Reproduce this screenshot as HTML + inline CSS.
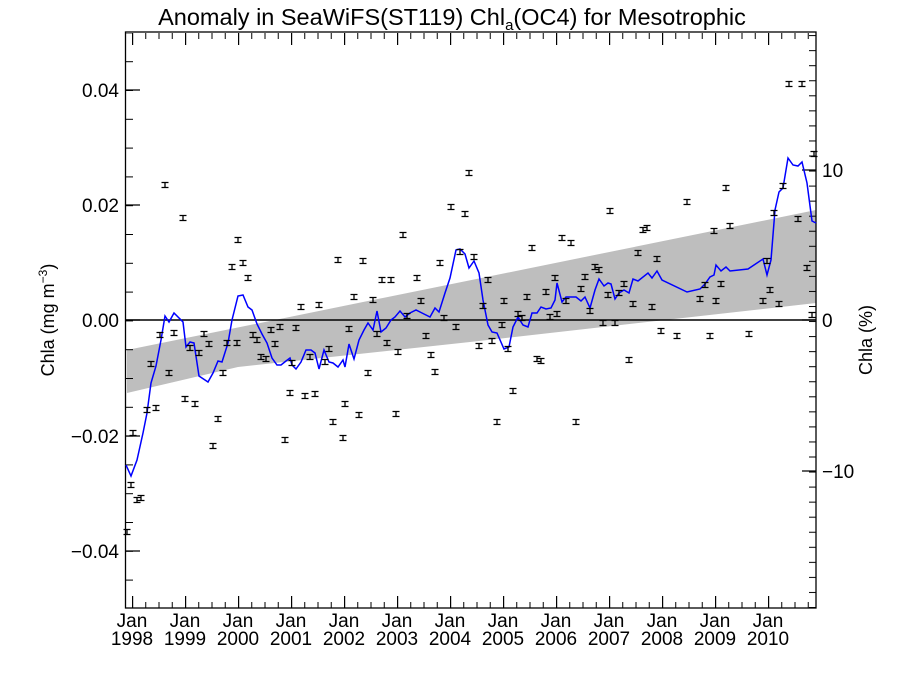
<!DOCTYPE html>
<html><head><meta charset="utf-8"><style>
html,body{margin:0;padding:0;background:#fff;}
svg{display:block;font-family:"Liberation Sans",sans-serif;}
</style></head><body>
<svg width="900" height="675" viewBox="0 0 900 675" xmlns="http://www.w3.org/2000/svg">
<defs>
<path id="eb" d="M-3.5,-2.5h7M-3.5,2.5h7M0,-2.5v5" stroke="#000" stroke-width="1.3" fill="none"/>
<pattern id="xminB" x="132" y="0" width="13.25" height="675" patternUnits="userSpaceOnUse"><rect x="0" y="0" width="1" height="675" fill="#000"/></pattern>
<pattern id="xmajB" x="132" y="0" width="53" height="675" patternUnits="userSpaceOnUse"><rect x="0" y="0" width="1.2" height="675" fill="#000"/></pattern>
<pattern id="yminL" x="0" y="32.4" width="900" height="28.8" patternUnits="userSpaceOnUse"><rect x="0" y="0" width="900" height="1" fill="#000"/></pattern>
<pattern id="yminR" x="0" y="5" width="900" height="15.05" patternUnits="userSpaceOnUse"><rect x="0" y="0" width="900" height="1" fill="#000"/></pattern>
</defs>
<text x="452" y="25" font-size="23.5" text-anchor="middle">Anomaly in SeaWiFS(ST119) Chl<tspan font-size="15" dy="5">a</tspan><tspan dy="-5">(OC4) for Mesotrophic</tspan></text>

<polygon points="127,350 816,210 816,303 470,342 238,367 127,393" fill="#bebebe"/>
<line x1="126" y1="320" x2="816" y2="320" stroke="#000" stroke-width="1.5"/>

<rect x="127" y="602" width="689" height="6" fill="url(#xminB)"/>
<rect x="127" y="596" width="689" height="12" fill="url(#xmajB)"/>
<rect x="127" y="33" width="689" height="6" fill="url(#xminB)"/>
<rect x="127" y="33" width="689" height="12" fill="url(#xmajB)"/>
<rect x="126" y="33" width="7" height="575" fill="url(#yminL)"/>
<path d="M126,90h14M126,205h14M126,320h14M126,436h14M126,551h14M816,170h-14M816,320h-14M816,471h-14" stroke="#000" stroke-width="1.2"/>
<rect x="809" y="33" width="7" height="575" fill="url(#yminR)"/>
<rect x="125.5" y="32" width="690.5" height="576" fill="none" stroke="#000" stroke-width="1.3"/>

<polyline fill="none" stroke="#0000ff" stroke-width="1.5" points="126,465 131,476 137,460 143,433 147,413 151,383 156,366 161,340 165,316 169,322 174,313 183,322 186,347 190,342 194,343 199,376 208,382 213,373 218,361 222,362 228,343 232,320 238,296 243,295 248,307 252,310 257,324 262,334 267,343 272,358 277,365 281,365 286,361 290,358 292,365 296,369 301,362 306,350 311,350 315,353 319,369 324,350 329,362 333,363 338,367 343,360 345,367 349,344 354,359 359,340 364,330 368,323 373,330 377,311 381,332 386,328 391,320 395,317 400,311 405,317 410,313 416,310 422,313 430,317 435,308 439,312 445,293 450,278 456,250 460,249 465,254 469,268 474,261 479,273 483,300 488,325 492,332 497,333 504,349 509,347 513,327 518,317 523,325 528,327 532,313 537,313 541,307 546,309 551,308 555,300 557,283 562,302 566,297 576,297 581,301 585,297 590,308 595,290 599,279 604,286 608,283 611,284 615,299 619,293 624,290 629,293 633,279 638,281 648,273 652,278 657,271 662,280 687,292 700,289 705,284 710,277 714,275 716,265 721,271 726,267 730,271 748,269 763,259 767,275 771,260 775,210 779,192 783,188 788,158 793,165 798,166 802,162 807,183 812,221 816,223"/>

<g>
<use href="#eb" x="127" y="532"/><use href="#eb" x="131" y="485"/><use href="#eb" x="137" y="500"/><use href="#eb" x="141" y="498"/><use href="#eb" x="133" y="433"/>
<use href="#eb" x="147" y="410"/><use href="#eb" x="156" y="408"/><use href="#eb" x="151" y="364"/><use href="#eb" x="160" y="335"/><use href="#eb" x="165" y="185"/>
<use href="#eb" x="169" y="373"/><use href="#eb" x="174" y="333"/><use href="#eb" x="183" y="218"/><use href="#eb" x="185" y="399"/><use href="#eb" x="190" y="348"/>
<use href="#eb" x="195" y="404"/><use href="#eb" x="199" y="353"/><use href="#eb" x="204" y="334"/><use href="#eb" x="209" y="344"/><use href="#eb" x="213" y="446"/>
<use href="#eb" x="218" y="419"/><use href="#eb" x="223" y="373"/><use href="#eb" x="227" y="343"/><use href="#eb" x="232" y="267"/><use href="#eb" x="237" y="343"/>
<use href="#eb" x="238" y="240"/><use href="#eb" x="243" y="263"/><use href="#eb" x="248" y="278"/><use href="#eb" x="253" y="335"/><use href="#eb" x="257" y="340"/>
<use href="#eb" x="261" y="357"/><use href="#eb" x="266" y="359"/><use href="#eb" x="271" y="330"/><use href="#eb" x="275" y="344"/><use href="#eb" x="280" y="327"/>
<use href="#eb" x="285" y="440"/><use href="#eb" x="290" y="393"/><use href="#eb" x="292" y="363"/><use href="#eb" x="296" y="328"/><use href="#eb" x="301" y="307"/>
<use href="#eb" x="305" y="396"/><use href="#eb" x="310" y="357"/><use href="#eb" x="315" y="394"/><use href="#eb" x="319" y="305"/><use href="#eb" x="325" y="362"/>
<use href="#eb" x="329" y="349"/><use href="#eb" x="333" y="422"/><use href="#eb" x="338" y="260"/><use href="#eb" x="343" y="438"/><use href="#eb" x="345" y="404"/>
<use href="#eb" x="349" y="329"/><use href="#eb" x="354" y="297"/><use href="#eb" x="359" y="415"/><use href="#eb" x="363" y="261"/><use href="#eb" x="368" y="373"/>
<use href="#eb" x="373" y="300"/><use href="#eb" x="377" y="334"/><use href="#eb" x="382" y="280"/><use href="#eb" x="387" y="343"/><use href="#eb" x="391" y="280"/>
<use href="#eb" x="396" y="414"/><use href="#eb" x="398" y="352"/><use href="#eb" x="403" y="235"/><use href="#eb" x="407" y="316"/><use href="#eb" x="417" y="278"/>
<use href="#eb" x="421" y="301"/><use href="#eb" x="426" y="336"/><use href="#eb" x="431" y="355"/><use href="#eb" x="435" y="372"/><use href="#eb" x="440" y="263"/>
<use href="#eb" x="444" y="318"/><use href="#eb" x="451" y="207"/><use href="#eb" x="456" y="327"/><use href="#eb" x="460" y="252"/><use href="#eb" x="465" y="214"/>
<use href="#eb" x="469" y="173"/><use href="#eb" x="474" y="257"/><use href="#eb" x="479" y="346"/><use href="#eb" x="483" y="306"/><use href="#eb" x="488" y="280"/>
<use href="#eb" x="492" y="341"/><use href="#eb" x="497" y="422"/><use href="#eb" x="502" y="325"/><use href="#eb" x="504" y="301"/><use href="#eb" x="508" y="349"/>
<use href="#eb" x="513" y="391"/><use href="#eb" x="518" y="314"/><use href="#eb" x="522" y="318"/><use href="#eb" x="527" y="297"/><use href="#eb" x="532" y="248"/>
<use href="#eb" x="537" y="359"/><use href="#eb" x="541" y="361"/><use href="#eb" x="546" y="292"/><use href="#eb" x="550" y="317"/><use href="#eb" x="555" y="278"/>
<use href="#eb" x="557" y="314"/><use href="#eb" x="562" y="238"/><use href="#eb" x="566" y="301"/><use href="#eb" x="571" y="243"/><use href="#eb" x="576" y="422"/>
<use href="#eb" x="581" y="289"/><use href="#eb" x="585" y="277"/><use href="#eb" x="590" y="311"/><use href="#eb" x="595" y="267"/><use href="#eb" x="599" y="270"/>
<use href="#eb" x="603" y="323"/><use href="#eb" x="608" y="295"/><use href="#eb" x="610" y="211"/><use href="#eb" x="615" y="323"/><use href="#eb" x="619" y="293"/>
<use href="#eb" x="624" y="284"/><use href="#eb" x="629" y="360"/><use href="#eb" x="633" y="304"/><use href="#eb" x="638" y="253"/><use href="#eb" x="643" y="230"/>
<use href="#eb" x="647" y="228"/><use href="#eb" x="652" y="307"/><use href="#eb" x="657" y="259"/><use href="#eb" x="661" y="331"/><use href="#eb" x="677" y="336"/>
<use href="#eb" x="687" y="202"/><use href="#eb" x="700" y="299"/><use href="#eb" x="705" y="285"/><use href="#eb" x="710" y="336"/><use href="#eb" x="714" y="231"/>
<use href="#eb" x="716" y="301"/><use href="#eb" x="721" y="284"/><use href="#eb" x="726" y="188"/><use href="#eb" x="730" y="226"/><use href="#eb" x="749" y="334"/>
<use href="#eb" x="763" y="301"/><use href="#eb" x="767" y="261"/><use href="#eb" x="770" y="290"/><use href="#eb" x="774" y="213"/><use href="#eb" x="779" y="304"/>
<use href="#eb" x="783" y="186"/><use href="#eb" x="789" y="84"/><use href="#eb" x="798" y="219"/><use href="#eb" x="802" y="84"/><use href="#eb" x="807" y="268"/>
<use href="#eb" x="812" y="315"/><use href="#eb" x="814" y="154"/>
</g>

<g font-size="19" text-anchor="end">
<text x="119" y="97">0.04</text>
<text x="119" y="212">0.02</text>
<text x="119" y="327">0.00</text>
<text x="119" y="443">−0.02</text>
<text x="119" y="558">−0.04</text>
</g>
<g font-size="19" text-anchor="start">
<text x="822" y="177">10</text>
<text x="822" y="327">0</text>
<text x="822" y="478">−10</text>
</g>
<text transform="translate(54,320) rotate(-90)" font-size="18" text-anchor="middle">Chla (mg m<tspan font-size="12" dy="-7">−3</tspan><tspan dy="7">)</tspan></text>
<text transform="translate(872,340) rotate(-90)" font-size="18" text-anchor="middle">Chla (%)</text>

<g font-size="19" text-anchor="middle">
<text x="132" y="627">Jan</text><text x="132" y="645">1998</text>
<text x="185" y="627">Jan</text><text x="185" y="645">1999</text>
<text x="238" y="627">Jan</text><text x="238" y="645">2000</text>
<text x="291" y="627">Jan</text><text x="291" y="645">2001</text>
<text x="344" y="627">Jan</text><text x="344" y="645">2002</text>
<text x="397" y="627">Jan</text><text x="397" y="645">2003</text>
<text x="450" y="627">Jan</text><text x="450" y="645">2004</text>
<text x="503" y="627">Jan</text><text x="503" y="645">2005</text>
<text x="556" y="627">Jan</text><text x="556" y="645">2006</text>
<text x="609" y="627">Jan</text><text x="609" y="645">2007</text>
<text x="662" y="627">Jan</text><text x="662" y="645">2008</text>
<text x="715" y="627">Jan</text><text x="715" y="645">2009</text>
<text x="768" y="627">Jan</text><text x="768" y="645">2010</text>
</g>
</svg>
</body></html>
